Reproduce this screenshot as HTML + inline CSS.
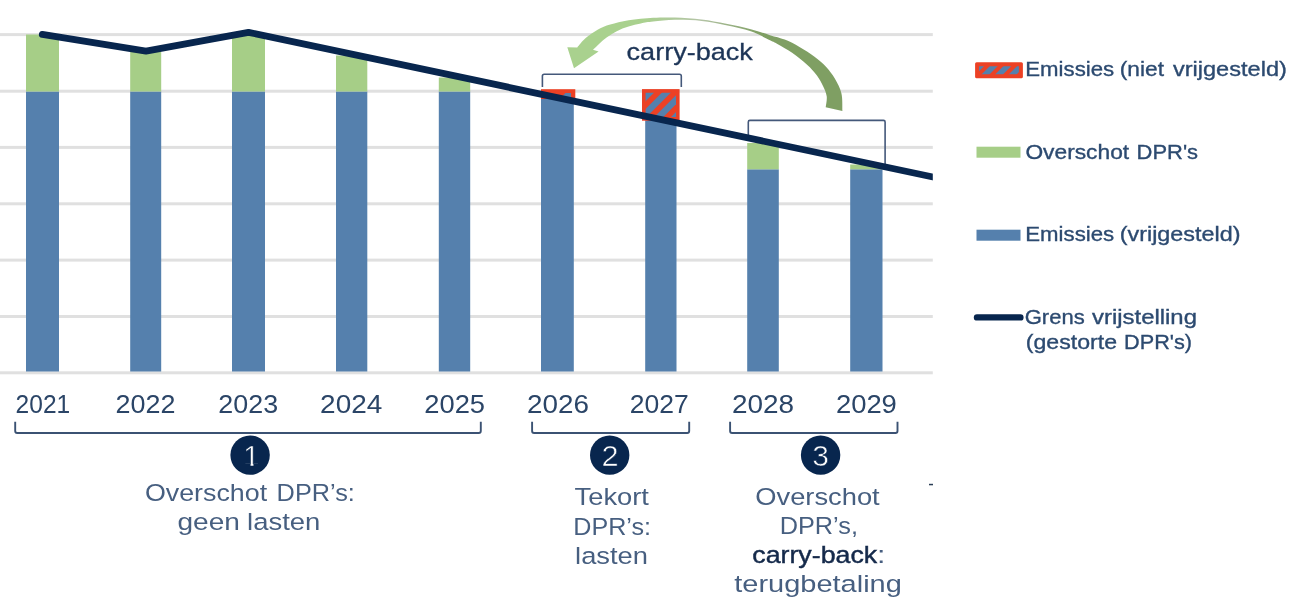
<!DOCTYPE html>
<html lang="nl"><head><meta charset="utf-8"><title>Carry-back DPR's</title>
<style>html,body{margin:0;padding:0;background:#fff}svg{display:block}text{font-family:"Liberation Sans",sans-serif}</style></head><body>
<svg width="1299" height="611" viewBox="0 0 1299 611">
<defs>
<linearGradient id="ag" gradientUnits="userSpaceOnUse" x1="640" y1="0" x2="760" y2="0"><stop offset="0" stop-color="#a9d18e"/><stop offset="0.5" stop-color="#b4c4a6"/><stop offset="1" stop-color="#7f9f63"/></linearGradient>
</defs>
<rect width="1299" height="611" fill="#fff"/>
<rect x="0" y="33.1" width="932.8" height="3" fill="#e0e0e0"/>
<rect x="0" y="89.7" width="932.8" height="3" fill="#e0e0e0"/>
<rect x="0" y="145.9" width="932.8" height="3" fill="#e0e0e0"/>
<rect x="0" y="202.3" width="932.8" height="3" fill="#e0e0e0"/>
<rect x="0" y="258.6" width="932.8" height="3" fill="#e0e0e0"/>
<rect x="0" y="315.0" width="932.8" height="3" fill="#e0e0e0"/>
<rect x="0" y="371.3" width="932.8" height="3" fill="#e0e0e0"/>
<rect x="26" y="91.5" width="33.0" height="280.0" fill="#5580ad"/>
<rect x="26" y="34.5" width="33.0" height="57.0" fill="#a6ce87"/>
<rect x="130.2" y="91.5" width="31.0" height="280.0" fill="#5580ad"/>
<rect x="130.2" y="52" width="31.0" height="39.5" fill="#a6ce87"/>
<rect x="232" y="91.5" width="33.0" height="280.0" fill="#5580ad"/>
<rect x="232" y="33" width="33.0" height="58.5" fill="#a6ce87"/>
<rect x="336" y="91.5" width="31.3" height="280.0" fill="#5580ad"/>
<rect x="336" y="55.5" width="31.3" height="36.0" fill="#a6ce87"/>
<rect x="438.8" y="91.5" width="31.4" height="280.0" fill="#5580ad"/>
<rect x="438.8" y="77.5" width="31.4" height="14.0" fill="#a6ce87"/>
<rect x="541" y="91.5" width="32.8" height="280.0" fill="#5580ad"/>
<rect x="645.2" y="117" width="31.3" height="254.5" fill="#5580ad"/>
<rect x="747.2" y="169.3" width="31.6" height="202.2" fill="#5580ad"/>
<rect x="747.2" y="143" width="31.6" height="26.30000000000001" fill="#a6ce87"/>
<rect x="850.2" y="169.3" width="32.3" height="202.2" fill="#5580ad"/>
<rect x="850.2" y="164.5" width="32.3" height="4.800000000000011" fill="#a6ce87"/>
<rect x="541" y="89.2" width="34.3" height="9.8" fill="#ec4125"/>
<path d="M559.5 99 L565.5 93 H571 V99 Z" fill="#5580ad"/>
<clipPath id="c27"><rect x="645.6" y="92.69999999999999" width="30.4" height="24.4"/></clipPath>
<rect x="642" y="89.1" width="37.6" height="31.6" rx="0" fill="#ec4125"/>
<g clip-path="url(#c27)" stroke="#5580ad" stroke-width="6.4"><line x1="616.5" y1="125.7" x2="658.1" y2="84.1"/><line x1="633.3" y1="125.7" x2="674.9" y2="84.1"/><line x1="650.1" y1="125.7" x2="691.7" y2="84.1"/><line x1="666.9" y1="125.7" x2="708.5" y2="84.1"/></g>
<path d="M542.4 87 V76 Q542.4 74.2 544.2 74.2 H679.5 Q681.3 74.2 681.3 76 V87" fill="none" stroke="#44587a" stroke-width="1.6"/>
<path d="M748.3 139 V122 Q748.3 120.4 749.9 120.4 H883.5 Q885.1 120.4 885.1 122 V166" fill="none" stroke="#44587a" stroke-width="1.6"/>
<polyline points="42.3,34.4 146,51.2 248.5,32.3 940,178.5" fill="none" stroke="#08264e" stroke-width="6.8" stroke-linejoin="round" stroke-linecap="round"/>
<rect x="932.8" y="160" width="14" height="30" fill="#fff"/>
<path d="M574 68.2 L567.3 47.3 L577.3 47.4 C578.7 45.9 582.2 41.1 585.7 38.1 C589.2 35.1 593.9 31.8 598.0 29.5 C602.1 27.2 605.1 26.1 610.2 24.6 C615.3 23.1 621.4 21.4 628.6 20.3 C635.8 19.2 645.5 18.2 653.2 17.8 C660.9 17.4 666.9 17.3 675.0 17.6 C683.1 17.9 693.1 18.6 701.6 19.6 C710.1 20.6 718.0 22.2 726.2 23.8 C734.4 25.4 743.5 27.3 750.8 29.2 C758.1 31.1 764.4 33.5 770.0 35.2 C775.6 36.9 779.8 37.7 784.7 39.6 C789.6 41.5 794.6 44.1 799.5 46.9 C804.4 49.7 809.8 53.2 814.2 56.5 C818.6 59.8 822.6 63.1 826.0 66.8 C829.4 70.5 832.2 74.2 834.8 78.6 C837.4 83.0 840.1 87.9 841.4 93.3 C842.7 98.7 842.2 108.0 842.4 111.0 L825.7 107.3 C825.9 105.5 827.2 99.8 826.7 96.3 C826.2 92.8 824.6 89.4 823.0 86.0 C821.4 82.6 819.8 79.3 817.1 75.7 C814.4 72.1 811.0 68.4 806.8 64.6 C802.6 60.8 797.0 56.2 792.1 52.8 C787.2 49.4 781.1 46.1 777.4 44.0 C773.7 41.9 774.4 42.4 770.0 40.3 C765.6 38.2 758.1 33.8 750.8 31.3 C743.5 28.8 734.4 26.9 726.2 25.2 C718.0 23.5 710.1 21.8 701.6 20.9 C693.1 20.0 683.1 19.7 675.0 19.8 C666.9 19.9 658.9 21.0 653.2 21.6 C647.5 22.2 645.0 22.6 640.9 23.4 C636.8 24.2 632.7 25.2 628.6 26.5 C624.5 27.8 620.4 29.2 616.3 31.4 C612.2 33.5 607.9 36.3 604.0 39.4 C600.1 42.5 594.8 48.1 593.0 49.8 L598.6 51.6 Z" fill="url(#ag)"/>
<text y="59.9" font-size="24.5" fill="#1d3557" stroke="#1d3557" stroke-width="0.3"><tspan x="626.6" textLength="126.18" lengthAdjust="spacingAndGlyphs">carry-back</tspan></text>
<clipPath id="cleg"><rect x="979.1" y="66.2" width="39.8" height="8.0"/></clipPath>
<rect x="975.1" y="62.2" width="47.8" height="16.0" rx="1.5" fill="#ec4125"/>
<g clip-path="url(#cleg)" stroke="#5580ad" stroke-width="5.6"><line x1="963.1" y1="83.2" x2="989.1" y2="57.2"/><line x1="976.7" y1="83.2" x2="1002.7" y2="57.2"/><line x1="990.3" y1="83.2" x2="1016.3" y2="57.2"/><line x1="1003.9" y1="83.2" x2="1029.9" y2="57.2"/></g>
<rect x="976.5" y="146.7" width="44" height="11" fill="#a6ce87"/>
<rect x="976.5" y="229.7" width="44" height="11" fill="#5580ad"/>
<line x1="977" y1="317.4" x2="1020.4" y2="317.4" stroke="#08264e" stroke-width="6.4" stroke-linecap="round"/>
<text y="75.9" font-size="20.5" fill="#2c4a70" stroke="#2c4a70" stroke-width="0.35"><tspan x="1025.32" textLength="88.85" lengthAdjust="spacingAndGlyphs">Emissies</tspan> <tspan x="1119.79" textLength="44.17" lengthAdjust="spacingAndGlyphs">(niet</tspan> <tspan x="1172.9" textLength="113.95" lengthAdjust="spacingAndGlyphs">vrijgesteld)</tspan></text>
<text y="158.8" font-size="20.5" fill="#2c4a70" stroke="#2c4a70" stroke-width="0.35"><tspan x="1025.4" textLength="103.76" lengthAdjust="spacingAndGlyphs">Overschot</tspan> <tspan x="1136.63" textLength="61.44" lengthAdjust="spacingAndGlyphs">DPR's</tspan></text>
<text y="241" font-size="20.5" fill="#2c4a70" stroke="#2c4a70" stroke-width="0.35"><tspan x="1025.32" textLength="88.85" lengthAdjust="spacingAndGlyphs">Emissies</tspan> <tspan x="1119.76" textLength="120.68" lengthAdjust="spacingAndGlyphs">(vrijgesteld)</tspan></text>
<text y="324" font-size="20.5" fill="#2c4a70" stroke="#2c4a70" stroke-width="0.35"><tspan x="1024.73" textLength="59.94" lengthAdjust="spacingAndGlyphs">Grens</tspan> <tspan x="1092.0" textLength="104.97" lengthAdjust="spacingAndGlyphs">vrijstelling</tspan></text>
<text y="349" font-size="20.5" fill="#2c4a70" stroke="#2c4a70" stroke-width="0.35"><tspan x="1025.77" textLength="91.28" lengthAdjust="spacingAndGlyphs">(gestorte</tspan> <tspan x="1124.14" textLength="67.93" lengthAdjust="spacingAndGlyphs">DPR's)</tspan></text>
<text x="15.62" y="413.3" font-size="25" fill="#2b4567" textLength="54.57" lengthAdjust="spacingAndGlyphs">2021</text>
<text x="115.52" y="413.3" font-size="25" fill="#2b4567" textLength="59.85" lengthAdjust="spacingAndGlyphs">2022</text>
<text x="218.33" y="413.3" font-size="25" fill="#2b4567" textLength="59.75" lengthAdjust="spacingAndGlyphs">2023</text>
<text x="320.08" y="413.3" font-size="25" fill="#2b4567" textLength="62.21" lengthAdjust="spacingAndGlyphs">2024</text>
<text x="424.31" y="413.3" font-size="25" fill="#2b4567" textLength="60.78" lengthAdjust="spacingAndGlyphs">2025</text>
<text x="527.09" y="413.3" font-size="25" fill="#2b4567" textLength="61.92" lengthAdjust="spacingAndGlyphs">2026</text>
<text x="629.74" y="413.3" font-size="25" fill="#2b4567" textLength="59.02" lengthAdjust="spacingAndGlyphs">2027</text>
<text x="731.98" y="413.3" font-size="25" fill="#2b4567" textLength="62.13" lengthAdjust="spacingAndGlyphs">2028</text>
<text x="835.9" y="413.3" font-size="25" fill="#2b4567" textLength="60.99" lengthAdjust="spacingAndGlyphs">2029</text>
<path d="M15.2 421.8 V431 Q15.2 433 17.2 433 H478.8 Q480.8 433 480.8 431 V421.8" fill="none" stroke="#3b5273" stroke-width="1.9"/>
<path d="M532.1 421.8 V431 Q532.1 433 534.1 433 H687.2 Q689.2 433 689.2 431 V421.8" fill="none" stroke="#3b5273" stroke-width="1.9"/>
<path d="M730.1 421.8 V431 Q730.1 433 732.1 433 H895.5 Q897.5 433 897.5 431 V421.8" fill="none" stroke="#3b5273" stroke-width="1.9"/>
<circle cx="250.1" cy="455.1" r="19.7" fill="#08264e"/>
<circle cx="609.7" cy="455.1" r="19.7" fill="#08264e"/>
<circle cx="820.6" cy="455.1" r="19.7" fill="#08264e"/>
<text x="601.44" y="465.9" font-size="29" fill="#fff" stroke="#08264e" stroke-width="0.6" textLength="17.17" lengthAdjust="spacingAndGlyphs">2</text>
<text x="812.26" y="465.9" font-size="29" fill="#fff" stroke="#08264e" stroke-width="0.6" textLength="16.7" lengthAdjust="spacingAndGlyphs">3</text>
<clipPath id="c1"><rect x="238" y="440" width="24" height="23.4"/><rect x="250.6" y="463" width="2.8" height="4"/></clipPath>
<text x="243.2" y="465.9" font-size="29" fill="#fff" stroke="#08264e" stroke-width="0.6" clip-path="url(#c1)">1</text>
<text y="501.2" font-size="24.5" fill="#475f80"><tspan x="144.9" textLength="122.28" lengthAdjust="spacingAndGlyphs">Overschot</tspan> <tspan x="276.64" textLength="78.23" lengthAdjust="spacingAndGlyphs">DPR’s:</tspan></text>
<text y="530.3" font-size="24.5" fill="#475f80"><tspan x="177.45" textLength="62.46" lengthAdjust="spacingAndGlyphs">geen</tspan> <tspan x="247.08" textLength="73.32" lengthAdjust="spacingAndGlyphs">lasten</tspan></text>
<text y="505.2" font-size="24.5" fill="#475f80"><tspan x="574.6" textLength="74.28" lengthAdjust="spacingAndGlyphs">Tekort</tspan></text>
<text y="535" font-size="24.5" fill="#475f80"><tspan x="573.25" textLength="77.7" lengthAdjust="spacingAndGlyphs">DPR’s:</tspan></text>
<text y="564.1" font-size="24.5" fill="#475f80"><tspan x="575.08" textLength="72.91" lengthAdjust="spacingAndGlyphs">lasten</tspan></text>
<text y="504.6" font-size="24.5" fill="#475f80"><tspan x="755.29" textLength="124.4" lengthAdjust="spacingAndGlyphs">Overschot</tspan></text>
<text y="534.3" font-size="24.5" fill="#475f80"><tspan x="779.74" textLength="78.23" lengthAdjust="spacingAndGlyphs">DPR’s,</tspan></text>
<text y="563.2" font-size="24.5" fill="#14294a" stroke="#14294a" stroke-width="0.45"><tspan x="752.31" textLength="124.87" lengthAdjust="spacingAndGlyphs">carry-back</tspan></text>
<text y="563.2" font-size="24.5" fill="#475f80"><tspan x="877.13" textLength="8.4" lengthAdjust="spacingAndGlyphs">:</tspan></text>
<text y="592" font-size="24.5" fill="#475f80"><tspan x="734.3" textLength="167.54" lengthAdjust="spacingAndGlyphs">terugbetaling</tspan></text>
<rect x="929" y="483.8" width="4" height="1.5" fill="#2a3d55"/>
</svg></body></html>
